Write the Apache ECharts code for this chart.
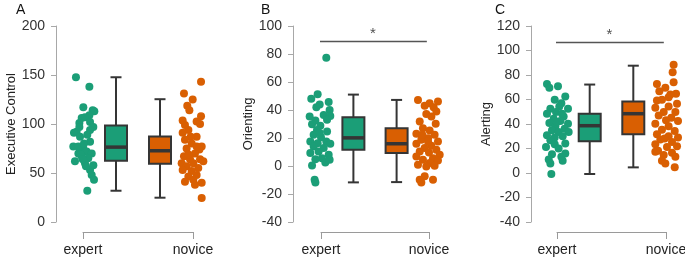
<!DOCTYPE html>
<html>
<head>
<meta charset="utf-8">
<script src="https://cdn.jsdelivr.net/npm/echarts@6/dist/echarts.min.js"></script>
<style>
  html, body { margin: 0; padding: 0; background: #fff; }
  #main { width: 685px; height: 257px; }
</style>
</head>
<body>
<div id="main"></div>
<script>
const groups = ['expert', 'novice'];
const panelLetters = ['A', 'B', 'C'];
const yNames = ['Executive Control', 'Orienting', 'Alerting'];
const yMin = [0, -40, -40];
const yMax = [200, 100, 120];
const yStep = [50, 20, 20];

// points: [jitter from group centre, score]
const execExpert = [[-0.064, 147.7], [0.058, 138], [0.003, 117], [0.088, 114], [0.103, 113], [0.058, 109],
  [-0.012, 106], [0.018, 107], [0.064, 102], [-0.033, 101], [0.094, 97], [-0.058, 92], [0.039, 89],
  [-0.082, 91], [0.064, 82], [-0.027, 87], [-0.088, 77], [0.003, 75], [0.033, 72], [-0.042, 70],
  [0.079, 70], [-0.012, 67], [0.048, 65], [-0.073, 62], [0.018, 60], [0.094, 58], [0.064, 53],
  [0.079, 48], [0.1, 43], [0.039, 32], [-0.042, 77], [0.009, 80], [-0.033, 97], [0.064, 94],
  [-0.021, 69], [0.027, 57], [-0.003, 64]];
const execNovice = [[0.073, 143], [-0.082, 131], [-0.003, 125], [-0.052, 118.5], [-0.033, 114], [0.073, 108],
  [-0.094, 103.6], [0.033, 102.6], [-0.073, 99], [0.064, 100], [-0.042, 94], [-0.094, 91], [0.033, 87],
  [-0.021, 87], [-0.073, 84], [0.079, 77], [-0.012, 80], [0.058, 74], [-0.058, 75], [0.018, 70],
  [-0.082, 67], [0.064, 64], [-0.027, 64], [0.094, 62], [-0.103, 60], [0.003, 60], [-0.058, 57],
  [0.048, 55], [-0.094, 53], [-0.012, 52], [0.033, 48], [-0.042, 46.5], [0.003, 43], [-0.073, 41],
  [0.079, 40], [0.018, 38], [0.079, 24.5], [-0.042, 69], [0.033, 77]];
const orientExpert = [[0.049, 77.4], [-0.031, 51.3], [-0.09, 48], [0.071, 45.8], [-0.012, 43.9], [-0.043, 42],
  [0.08, 40], [-0.105, 35.3], [0.025, 36.5], [0.086, 35.8], [-0.052, 32.5], [-0.083, 29.9], [-0.006, 28.7],
  [-0.037, 25.8], [0.056, 24.6], [-0.068, 22.3], [0, 20.6], [-0.099, 17.5], [-0.031, 16.3], [0.049, 17.5],
  [-0.068, 14], [0.086, 15.9], [0.025, 12.8], [-0.022, 10.4], [-0.099, 9.2], [0.071, 8], [0.009, 5.6],
  [-0.052, 4.9], [0.04, 2.5], [-0.083, 0.4], [0.08, 4.4], [-0.059, -9.8], [-0.052, -11.7], [-0.012, 23.5],
  [0.056, 33]];
const orientNovice = [[-0.102, 47.2], [0.083, 46], [0.006, 44.9], [-0.04, 43], [0.043, 42], [0.068, 38.9],
  [-0.025, 37.2], [0.022, 35.3], [-0.086, 31.8], [0.062, 30.1], [-0.056, 27], [0.006, 25.4], [-0.117, 23],
  [0.052, 22.3], [-0.009, 19.9], [-0.071, 18.7], [0.083, 17.5], [-0.117, 15.9], [0.022, 14.4], [-0.04, 12.8],
  [0.068, 11.6], [-0.086, 10.4], [0, 9.7], [0.099, 8], [-0.117, 6.8], [0.037, 5.6], [-0.056, 4.4],
  [0.083, 4], [0.006, 2.1], [-0.102, 0.9], [-0.025, -0.3], [0.052, 0.2], [-0.04, -7.4], [-0.086, -9.8],
  [-0.071, -11.7], [0.037, -9.8], [-0.009, 17.5], [-0.062, 22.3]];
const alertExpert = [[-0.092, 72.7], [0.009, 70.8], [-0.07, 69.5], [0.076, 62.4], [-0.021, 59.7], [0.04, 57],
  [0.021, 54.3], [-0.061, 52.4], [0.101, 52.4], [-0.009, 49.7], [-0.092, 48.4], [0.061, 46.2], [-0.031, 44.3],
  [0.031, 42.4], [-0.07, 40.8], [0.101, 40.3], [-0.015, 38.1], [0.07, 36.2], [-0.046, 34.9], [0.015, 33.5],
  [0.107, 33.5], [-0.092, 30.8], [-0.021, 28.9], [0.052, 30], [-0.061, 26.7], [0.076, 24], [-0.021, 23.5],
  [-0.101, 21.3], [0.015, 20], [0.076, 16], [-0.046, 15.4], [0.04, 13.2], [-0.076, 11.1], [0.052, 10],
  [-0.061, 7.8], [-0.052, -0.8], [0, 41.6], [0.046, 48.4]];
const alertNovice = [[0.07, 88.4], [0.061, 82.2], [-0.083, 72.7], [0.07, 74], [-0.006, 69.5], [-0.061, 66.8],
  [0.092, 64.6], [0.024, 61.9], [-0.037, 59.7], [0.101, 56.5], [-0.098, 53.2], [0.024, 54.3], [-0.021, 49.7],
  [0.086, 49.7], [-0.067, 47], [0.049, 45.1], [0, 43], [0.11, 42.4], [-0.098, 40.3], [0.024, 38.1],
  [-0.037, 35.4], [0.08, 34.3], [-0.083, 31.6], [0.024, 30], [0.11, 28.9], [-0.052, 27.3], [0.055, 25.4],
  [-0.098, 23.5], [0.009, 21.3], [0.101, 21.9], [-0.073, 18.1], [0.055, 16.5], [-0.021, 14.6], [0.086, 13.2],
  [-0.037, 10], [-0.006, 7.8], [0.08, 4.6], [0.04, 64], [-0.083, 59.2], [-0.012, 28.1], [-0.098, 17.3]];

// boxes: [min, q1, median, q3, max] for expert, novice
const execBoxes = [[31.9, 62.5, 76.4, 98.5, 147.7], [24.8, 59.4, 72.7, 87.3, 125.3]];
const orientBoxes = [[-11.7, 11.6, 20.1, 34.9, 51], [-11.5, 9.2, 15.9, 27, 47.2]];
const alertBoxes = [[-0.8, 25.9, 38.6, 48.4, 72.2], [4.6, 31.6, 48.4, 58.4, 87.6]];

// significance bar and star height (null = none)
const sigLevel = [null, 89, 106.5];
const sigLabel = [null, '*', '*'];

const pointSets = [[execExpert, execNovice], [orientExpert, orientNovice], [alertExpert, alertNovice]];
const boxSets = [execBoxes, orientBoxes, alertBoxes];

const colors = ['#1b9e77', '#d95f02'];
const gridLeft = [83, 321, 557];
const gridWidth = [110, 108, 109];
const yOffset = [27, 28, 26];
const letterLeft = [11, 256, 490];
const boxAt = [1.3, 1.7];
const font = 'Liberation Sans';

function renderBox (params, api) {
  const x = api.value(0);
  const pMin = api.coord([x, api.value(1)]);
  const pQ1 = api.coord([x, api.value(2)]);
  const pMed = api.coord([x, api.value(3)]);
  const pQ3 = api.coord([x, api.value(4)]);
  const pMax = api.coord([x, api.value(5)]);
  const half = 11, cap = 5.5;
  const stroke = { stroke: '#353535', lineWidth: 2 };
  const cx = pMed[0];
  return {
    type: 'group',
    children: [
      { type: 'line', shape: { x1: cx, y1: pMax[1], x2: cx, y2: pQ3[1] }, style: stroke },
      { type: 'line', shape: { x1: cx, y1: pQ1[1], x2: cx, y2: pMin[1] }, style: stroke },
      { type: 'line', shape: { x1: cx - cap, y1: pMax[1], x2: cx + cap, y2: pMax[1] }, style: stroke },
      { type: 'line', shape: { x1: cx - cap, y1: pMin[1], x2: cx + cap, y2: pMin[1] }, style: stroke },
      {
        type: 'rect',
        shape: { x: cx - half, y: pQ3[1], width: half * 2, height: pQ1[1] - pQ3[1] },
        style: { fill: api.visual('color'), stroke: '#353535', lineWidth: 2 },
      },
      { type: 'line', shape: { x1: cx - half, y1: pMed[1], x2: cx + half, y2: pMed[1] }, style: { stroke: '#353535', lineWidth: 3.5 } },
    ],
  };
}

const grid = [], xAxis = [], yAxis = [], title = [], series = [];
for (let i = 0; i < 3; i++) {
  grid.push({ left: gridLeft[i], width: gridWidth[i], top: 26, height: 196, outerBoundsMode: 'none' });
  title.push({ text: panelLetters[i], left: letterLeft[i], top: -2, textStyle: { fontSize: 14, fontWeight: 'normal', color: '#111', fontFamily: font } });
  // hidden value axis used to place points and boxes
  xAxis.push({ gridIndex: i, type: 'value', min: 1, max: 2, show: false });
  // visible group axis (bracket with end ticks)
  xAxis.push({
    gridIndex: i, type: 'category', data: groups, boundaryGap: false, position: 'bottom', offset: 10,
    axisLine: { show: true, onZero: false, lineStyle: { color: '#9a9a9a', width: 1 } },
    axisTick: { show: true, length: 7, lineStyle: { color: '#9a9a9a', width: 1 } },
    axisLabel: { margin: 11, fontSize: 14, color: '#222', fontFamily: font },
    splitLine: { show: false },
  });
  yAxis.push({
    gridIndex: i, type: 'value', min: yMin[i], max: yMax[i], interval: yStep[i], offset: yOffset[i],
    name: yNames[i], nameLocation: 'middle', nameGap: 37,
    nameTextStyle: { fontSize: 13, color: '#222', fontFamily: font },
    axisLine: { show: true, onZero: false, lineStyle: { color: '#a8a8a8' } },
    axisTick: { show: true, length: 5, lineStyle: { color: '#a8a8a8' } },
    axisLabel: { margin: 11, fontSize: 14, color: '#333', fontFamily: font },
    splitLine: { show: false },
  });
  const xi = i * 2;
  pointSets[i].forEach((pts, g) => {
    series.push({
      type: 'scatter', xAxisIndex: xi, yAxisIndex: i, symbolSize: 8, clip: false,
      itemStyle: { color: colors[g], opacity: 1 },
      data: pts.map(d => [g + 1 + d[0], d[1]]),
      z: 2,
    });
  });
  series.push({
    type: 'custom', xAxisIndex: xi, yAxisIndex: i, renderItem: renderBox, clip: false,
    encode: { x: 0, y: [1, 2, 3, 4, 5] },
    data: boxSets[i].map((b, g) => ({ value: [boxAt[g]].concat(b), itemStyle: { color: colors[g] } })),
    z: 3,
  });
  if (sigLevel[i] !== null) {
    series.push({
      type: 'line', xAxisIndex: xi, yAxisIndex: i, symbol: 'none', silent: true, clip: false,
      lineStyle: { color: '#555', width: 1.5 },
      data: [[0.98, sigLevel[i]], [1.98, sigLevel[i]]],
    });
    series.push({
      type: 'scatter', xAxisIndex: xi, yAxisIndex: i, symbolSize: 1, silent: true, clip: false,
      itemStyle: { color: 'rgba(0,0,0,0)' },
      label: { show: true, position: 'top', distance: 0, formatter: sigLabel[i], fontSize: 15, color: '#222', fontFamily: font },
      data: [[1.48, sigLevel[i]]],
    });
  }
}

const myChart = echarts.init(document.getElementById('main'));
myChart.setOption({
  backgroundColor: '#fff',
  animation: false,
  title,
  grid,
  xAxis,
  yAxis,
  series,
});
</script>
</body>
</html>
